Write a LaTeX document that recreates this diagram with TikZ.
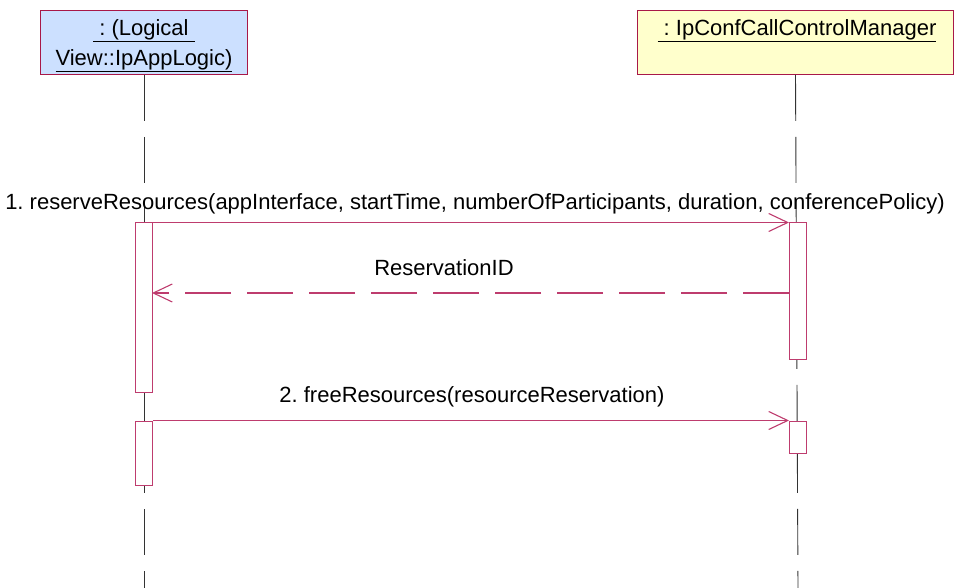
\documentclass[tikz,border=0pt]{standalone}
\usepackage{fontspec}
\setmainfont{Liberation Sans}
\usetikzlibrary{arrows.meta}
\definecolor{umlred}{RGB}{168,24,72}
\definecolor{actred}{RGB}{190,60,110}
\definecolor{objblue}{RGB}{204,224,255}
\definecolor{objyellow}{RGB}{255,255,204}
\frenchspacing
\begin{document}
\begin{tikzpicture}[x=1pt,y=-1pt,
  objbox/.style={draw=umlred,line width=1pt,minimum height=64pt,inner sep=0pt},
  objtxt/.style={font=\fontsize{22}{30}\selectfont,inner sep=0pt,align=center},
  lifeline/.style={draw=black!80,line width=0.9pt,dash pattern=on 46pt off 16pt},
  actbox/.style={draw=actred,fill=white,line width=1pt,minimum width=17pt,inner sep=0pt},
  msg/.style={draw=actred,line width=1.1pt,-{Straight Barb[length=19pt,width=18pt,line width=1.1pt]}},
  ret/.style={msg,dash pattern=on 46pt off 16pt},
  lbl/.style={font=\fontsize{22}{24}\selectfont,inner sep=0pt}]
\useasboundingbox (0,0) rectangle (959,588);
% objects
\node[objbox,fill=objblue,minimum width=207pt,anchor=north west] (A) at (40,10) {};
\node[objtxt] (Atxt) at (144,46) {\underline{\ :\ (Logical\ }\\\underline{View::IpAppLogic)}};
\node[objbox,fill=objyellow,minimum width=316pt,anchor=north west] (B) at (637,10) {};
\node[objtxt] (Btxt) at (797,31) {\underline{\ :\ IpConfCallControlManager}};
% lifelines
\coordinate (Aend) at (144,588);
\coordinate (Bend) at (798,588);
\draw[lifeline] (A.south) -- (Aend);
\draw[lifeline] (B.south) -- (Bend);
% activations
\node[actbox,minimum height=169pt] (a1) at (144,307.5) {};
\node[actbox,minimum height=64pt] (a2) at (144,453) {};
\node[actbox,minimum height=136pt] (b1) at (798,291) {};
\node[actbox,minimum height=32pt] (b2) at (798,437) {};
% messages
\draw[msg] (a1.north east) -- (b1.north west);
\node[lbl] (m1) at (475,204) {1. reserveResources(appInterface, startTime, numberOfParticipants, duration, conferencePolicy)};
\coordinate (r1) at (789,293);
\coordinate (r2) at (152,293);
\draw[ret] (r1) -- (r2);
\node[lbl] (m2) at (444,268) {ReservationID};
\draw[msg] (a2.north east) -- (b2.north west);
\node[lbl] (m3) at (472,397) {2. freeResources(resourceReservation)};
\end{tikzpicture}
\end{document}
